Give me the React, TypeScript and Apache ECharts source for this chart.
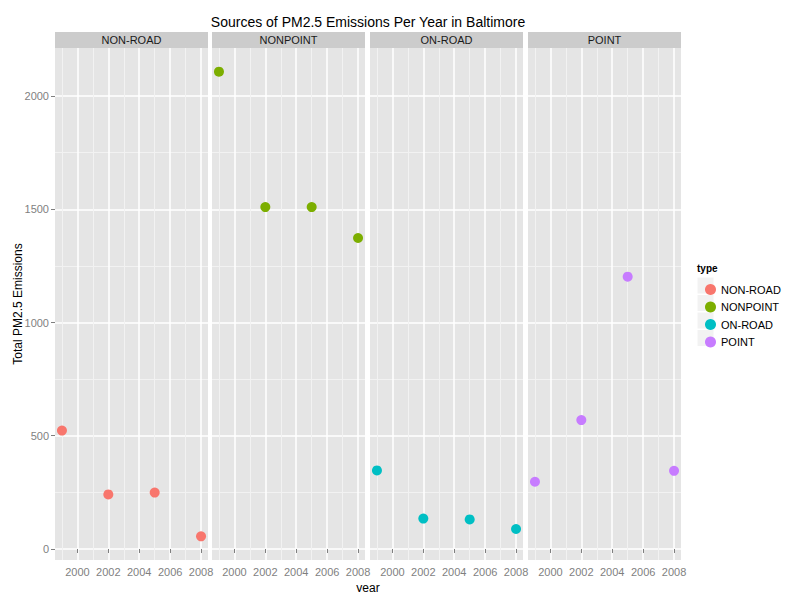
import React, { useRef, useEffect } from 'react';
import * as echarts from 'echarts';

const years = [1999, 2002, 2005, 2008];
const types = ['NON-ROAD', 'NONPOINT', 'ON-ROAD', 'POINT'];
const colors = ['#F8766D', '#7CAE00', '#00BFC4', '#C77CFF'];
const nonRoad = [522.94, 240.85, 248.93, 55.82];
const nonPoint = [2107.6, 1509.5, 1509.5, 1373.2];
const onRoad = [346.82, 134.31, 130.43, 88.28];
const point = [296.8, 569.26, 1202.49, 344.98];
const xTicks = [2000, 2002, 2004, 2006, 2008];
const xMinor = [1999, 2001, 2003, 2005, 2007];
const yTicks = [0, 500, 1000, 1500, 2000];
const yMinor = [250, 750, 1250, 1750];

const allValues = [nonRoad, nonPoint, onRoad, point];
const lefts = [55, 212, 370, 528];
const W = 153;
const TOP = 48;
const H = 512;

const App = () => {
  const chartRef = useRef(null);

  useEffect(() => {
    const chart = echarts.init(chartRef.current, null, { renderer: 'svg' });
    const grids: any[] = [];
    const xAxes: any[] = [];
    const yAxes: any[] = [];
    const series: any[] = [];
    const graphic: any[] = [];
    const label = { color: '#7F7F7F', fontSize: 11, fontFamily: 'Liberation Sans', formatter: (v: number) => String(v) };

    types.forEach((t, i) => {
      grids.push({ left: lefts[i], top: TOP, width: W, height: H, backgroundColor: '#E5E5E5', show: true, borderWidth: 0 });
      const xBase = { type: 'value', gridIndex: i, position: 'bottom', offset: 0, min: 1998.55, max: 2008.45, axisLine: { show: false } };
      // minor grid
      xAxes.push({ ...xBase, axisTick: { show: false, customValues: xMinor }, axisLabel: { show: false, customValues: xMinor },
        splitLine: { show: true, lineStyle: { color: '#F2F2F2', width: 1 } } });
      // major grid
      xAxes.push({ ...xBase, axisTick: { show: true, customValues: xTicks, length: 4, lineStyle: { color: '#7F7F7F' } },
        axisLabel: { ...label, customValues: xTicks, margin: 6 },
        splitLine: { show: true, lineStyle: { color: '#FFFFFF', width: 1.5 } } });
      const yBase = { type: 'value', gridIndex: i, position: 'left', offset: 0, min: -48.6, max: 2212, axisLine: { show: false } };
      yAxes.push({ ...yBase, axisTick: { show: false, customValues: yMinor }, axisLabel: { show: false, customValues: yMinor },
        splitLine: { show: true, lineStyle: { color: '#F2F2F2', width: 1 } } });
      yAxes.push({ ...yBase, axisTick: { show: i === 0, customValues: yTicks, length: 4, lineStyle: { color: '#7F7F7F' } },
        axisLabel: { ...label, show: i === 0, customValues: yTicks, margin: 6 },
        splitLine: { show: true, lineStyle: { color: '#FFFFFF', width: 1.5 } } });
      series.push({
        name: t, type: 'scatter', xAxisIndex: 2 * i + 1, yAxisIndex: 2 * i + 1,
        symbolSize: 10, itemStyle: { color: colors[i], opacity: 1 },
        data: years.map((y, k) => [y, allValues[i][k]]),
      });
      graphic.push({ type: 'rect', shape: { x: lefts[i], y: 32, width: W, height: 16 }, style: { fill: '#CCCCCC' } });
      graphic.push({ type: 'text', x: lefts[i] + W / 2, y: 40,
        style: { text: t, fill: '#1A1A1A', fontSize: 11, fontFamily: 'Liberation Sans', align: 'center', verticalAlign: 'middle' } });
    });

    graphic.push({ type: 'text', x: 368, y: 22, style: { text: 'Sources of PM2.5 Emissions Per Year in Baltimore', fill: '#000', fontSize: 14, fontFamily: 'Liberation Sans', align: 'center', verticalAlign: 'middle' } });
    graphic.push({ type: 'text', x: 368, y: 588, style: { text: 'year', fill: '#000', fontSize: 12, fontFamily: 'Liberation Sans', align: 'center', verticalAlign: 'middle' } });
    graphic.push({ type: 'text', x: 18, y: 304, rotation: Math.PI / 2, style: { text: 'Total PM2.5 Emissions', fill: '#000', fontSize: 12, fontFamily: 'Liberation Sans', align: 'center', verticalAlign: 'middle' } });
    graphic.push({ type: 'text', x: 697, y: 268, style: { text: 'type', fill: '#000', fontSize: 10, fontWeight: 'bold', fontFamily: 'Liberation Sans', verticalAlign: 'middle' } });
    types.forEach((t, i) => {
      graphic.push({ type: 'rect', shape: { x: 697, y: 277 + i * 17.5, width: 17, height: 17 }, style: { fill: '#F2F2F2', stroke: '#FFFFFF' } });
    });

    chart.setOption({
      animation: false,
      backgroundColor: '#FFFFFF',
      grid: grids,
      xAxis: xAxes,
      yAxis: yAxes,
      series,
      graphic,
      legend: {
        orient: 'vertical', left: 700, top: 279, itemGap: 6.5, itemWidth: 11, itemHeight: 11,
        icon: 'circle', data: types,
        textStyle: { fontSize: 11, color: '#000', fontFamily: 'Liberation Sans' },
      },
    });

    return () => chart.dispose();
  }, []);

  return <div ref={chartRef} style={{ width: 800, height: 600, margin: -8 }} />;
};

export default App;
